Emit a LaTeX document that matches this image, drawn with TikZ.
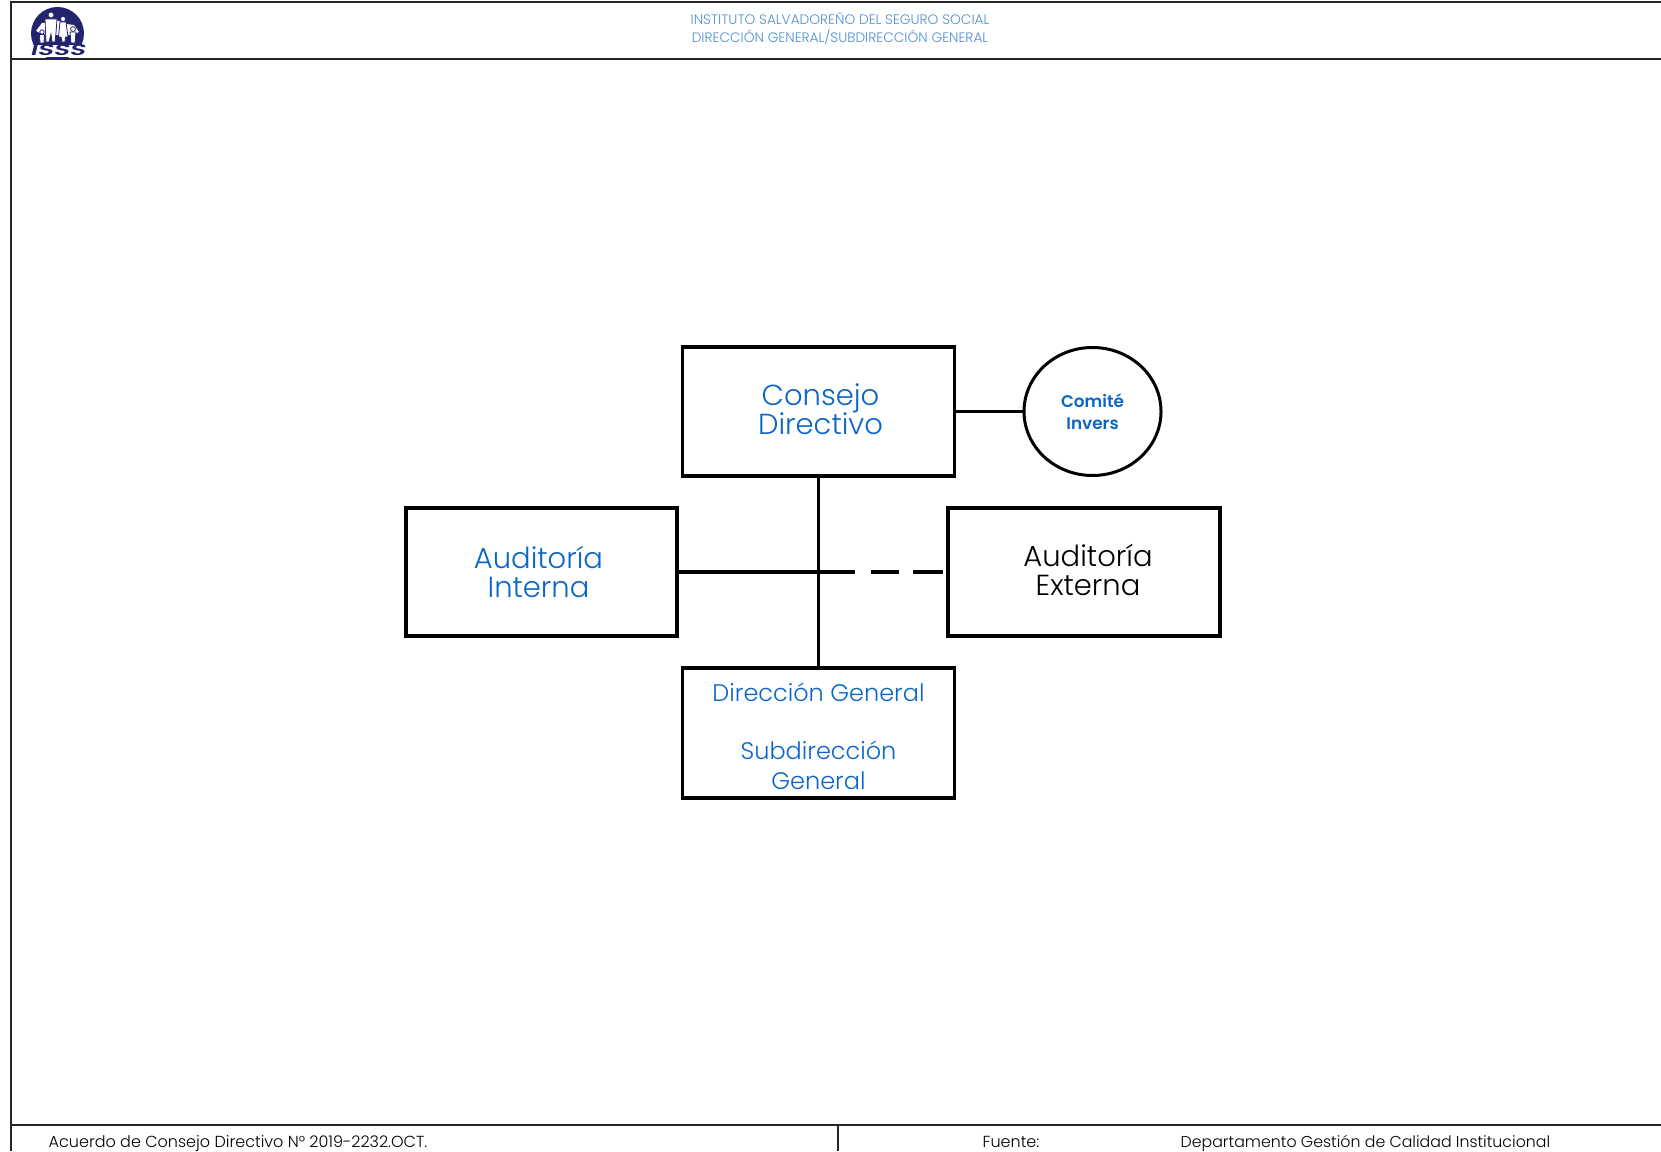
\documentclass[tikz,border=0pt]{standalone}
\usepackage{fontspec}
\setmainfont{Poppins}[UprightFont=* Light,BoldFont=* SemiBold]
\usetikzlibrary{calc,shapes.geometric}

\definecolor{azulc}{HTML}{0B66C8}
\definecolor{azulh}{HTML}{4F8FD0}
\definecolor{marino}{HTML}{24246E}

\tikzset{
	caja/.style={draw,line width=0.033cm,minimum width=2.72cm,minimum height=1.29cm,inner sep=0pt,outer sep=0pt,align=center,font={\fontsize{8.25}{8.25}\selectfont\lineskiplimit=-5pt},text=azulc},
	enlace/.style={line width=0.033cm},
	marco/.style={line width=0.025cm,black!85},
	encabezado/.style={font=\fontsize{3.9}{5.1}\selectfont,text=azulh,align=center},
	pie/.style={font=\fontsize{4.55}{5}\selectfont,anchor=base west,inner sep=0pt},
	silueta/.style={fill=white,draw=marino,line width=0.008cm},
}

\begin{document}
\begin{tikzpicture}

	\useasboundingbox (0,0) rectangle (16.61,11.51);

	% marco
	\draw[marco] (0.11,0) -- (0.11,11.49) -- (16.61,11.49);
	\draw[marco] (0.11,10.92) -- (16.61,10.92);
	\draw[marco] (0.11,0.26) -- (16.61,0.26);
	\draw[marco] (8.38,0.26) -- (8.38,0);

	% logo
	\fill[marino] (0.575,11.175) circle (0.265);
	\fill[white] (0.36,11.20) -- (0.42,11.28) -- (0.48,11.28) -- (0.56,11.31) -- (0.66,11.27) -- (0.74,11.26) -- (0.79,11.19) -- (0.72,11.16) -- (0.44,11.16) -- cycle;
	\filldraw[silueta] (0.51,11.36) circle (0.03);
	\filldraw[silueta] (0.45,11.32) -- (0.57,11.32) -- (0.56,11.18) -- (0.55,11.09) -- (0.52,11.09) -- (0.51,11.17) -- (0.49,11.09) -- (0.46,11.09) -- cycle;
	\filldraw[silueta] (0.63,11.32) circle (0.026);
	\filldraw[silueta] (0.60,11.29) -- (0.66,11.29) -- (0.68,11.14) -- (0.655,11.14) -- (0.65,11.09) -- (0.62,11.09) -- (0.61,11.14) -- (0.585,11.14) -- cycle;
	\filldraw[silueta] (0.42,11.19) circle (0.022);
	\filldraw[silueta] (0.395,11.165) -- (0.445,11.165) -- (0.44,11.08) -- (0.40,11.08) -- cycle;
	\filldraw[silueta] (0.73,11.22) circle (0.024);
	\filldraw[silueta] (0.70,11.19) -- (0.76,11.19) -- (0.75,11.08) -- (0.71,11.08) -- cycle;
	\fill[white] (0.28,10.94) rectangle (0.87,11.06);
	\node[inner sep=0pt,text=marino] (siglas) at (0.575,11.005) {\fontsize{4.4}{4.4}\selectfont\bfseries\addfontfeature{FakeSlant=0.25,FakeStretch=1.7}ISSS};

	% encabezado
	\node[encabezado] (titulo) at (8.40,11.22) {INSTITUTO SALVADOREÑO DEL SEGURO SOCIAL\\DIRECCIÓN GENERAL/SUBDIRECCIÓN GENERAL};

	% organos
	\node[caja] (consejo) at (8.185,7.395) {\hspace*{0.04cm}Consejo\\\hspace*{0.04cm}Directivo\rule[-0.04cm]{0pt}{0.1cm}};
	\node[caja,minimum width=2.71cm,minimum height=1.28cm] (interna) at (5.415,5.79) {\hspace*{-0.06cm}Auditoría\\\hspace*{-0.06cm}Interna};
	\node[caja,minimum height=1.28cm,text=black] (externa) at (10.84,5.79) {\hspace*{0.08cm}Auditoría\\\hspace*{0.08cm}Externa\rule[-0.04cm]{0pt}{0.1cm}};
	\node[caja,minimum height=1.30cm,font=\fontsize{6.82}{8.3}\selectfont] (direccion) at (8.185,4.18) {\rule{0pt}{0.25cm}Dirección General\\[0.29cm]Subdirección\\General};
	\node[ellipse,draw,line width=0.03cm,minimum width=1.37cm,minimum height=1.28cm,inner sep=0pt,outer sep=0pt,align=center,font=\fontsize{4.8}{6.3}\selectfont\bfseries,text=azulc] (comite) at (10.925,7.395) {Comité\\Invers};

	\coordinate (cruce) at (7.83,5.79);

	\draw[enlace] (consejo.east) -- (comite.west);
	\draw[enlace] (consejo.south) -- (direccion.north);
	\draw[enlace] (interna.east) -- (cruce);
	\draw[enlace,shorten <=0.05cm,dash pattern=on 0.30cm off 0.14cm on 0.28cm off 0.16cm on 2cm] (externa.west) -- (cruce);

	% pie
	\node[pie] (acuerdo) at (0.48,0.04) {Acuerdo de Consejo Directivo N° 2019-2232.OCT.};
	\node[pie] (fuente) at (9.82,0.04) {Fuente:};
	\node[pie,font=\fontsize{4.49}{5}\selectfont] (depto) at (11.80,0.04) {Departamento Gestión de Calidad Institucional};

\end{tikzpicture}
\end{document}
